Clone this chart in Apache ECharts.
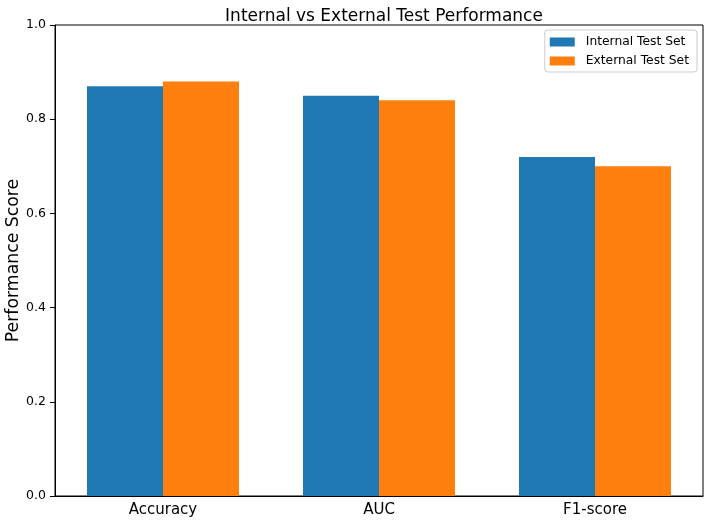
<!DOCTYPE html>
<html>
<head>
<meta charset="utf-8">
<script src="https://cdn.jsdelivr.net/npm/echarts@6/dist/echarts.min.js"></script>
<style>html,body{margin:0;padding:0;background:#fff}#c{width:708px;height:524px}</style>
</head>
<body>
<div id="c"></div>
<script>
var categories = ['Accuracy', 'AUC', 'F1-score'];
var internalScores = [0.87, 0.85, 0.72];
var externalScores = [0.88, 0.84, 0.70];
var seriesNames = ['Internal Test Set', 'External Test Set'];
var yTicks = [0.0, 0.2, 0.4, 0.6, 0.8, 1.0];
var titleText = 'Internal vs External Test Performance';
var yAxisTitle = 'Performance Score';

var font = 'DejaVu Sans';
var chart = echarts.init(document.getElementById('c'), null, {renderer: 'canvas'});
chart.setOption({
  animation: false,
  backgroundColor: '#ffffff',
  textStyle: {fontFamily: font},
  title: {
    text: titleText,
    left: 379, textAlign: 'center', top: 3,
    textStyle: {fontFamily: font, fontSize: 17, fontWeight: 'normal', color: '#000'}
  },
  legend: {
    orient: 'vertical',
    right: 11, top: 30,
    itemWidth: 25, itemHeight: 9, itemGap: 7,
    padding: [6, 8, 5, 5],
    borderColor: '#cccccc', borderWidth: 1, borderRadius: 3,
    icon: 'rect',
    textStyle: {fontFamily: font, fontSize: 12.3, color: '#000', padding: [0, 0, 0, 6]},
    data: seriesNames
  },
  grid: {left: 55, right: 5, top: 25, bottom: 28, outerBoundsMode: 'none', containLabel: false,
    show: true, borderColor: '#000', borderWidth: 1, backgroundColor: 'transparent'},
  xAxis: {
    type: 'category',
    data: categories,
    axisLine: {lineStyle: {color: '#000', width: 1}},
    axisTick: {alignWithLabel: true, length: 5, lineStyle: {color: '#000'}},
    axisLabel: {fontFamily: font, fontSize: 15, color: '#000', margin: 7}
  },
  yAxis: {
    type: 'value',
    min: yTicks[0], max: yTicks[yTicks.length - 1], interval: 0.2,
    name: yAxisTitle,
    nameLocation: 'middle', nameRotate: 90, nameGap: 33, nameMoveOverlap: false,
    nameTextStyle: {fontFamily: font, fontSize: 17.3, color: '#000'},
    axisLine: {show: true, lineStyle: {color: '#000', width: 1}},
    axisTick: {show: true, length: 5, lineStyle: {color: '#000'}},
    splitLine: {show: false},
    axisLabel: {fontFamily: font, fontSize: 12.5, color: '#000', margin: 9,
      formatter: function (v) { return v.toFixed(1); }}
  },
  series: [
    {name: seriesNames[0], type: 'bar', data: internalScores, barWidth: 76, barGap: '0%', itemStyle: {color: '#1f77b4'}},
    {name: seriesNames[1], type: 'bar', data: externalScores, barWidth: 76, barGap: '0%', itemStyle: {color: '#ff7f0e'}}
  ]
});
</script>
</body>
</html>
